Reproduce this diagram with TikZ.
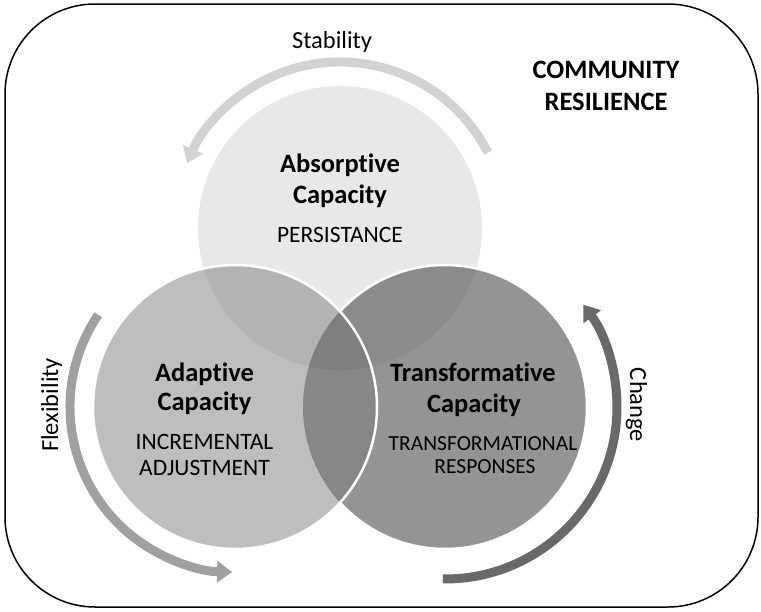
\documentclass[tikz,border=0pt]{standalone}
\usepackage{fontspec}
\setmainfont{Carlito}[Ligatures=CommonOff]
\usetikzlibrary{arrows.meta}
\definecolor{colT}{RGB}{232,232,232}
\definecolor{colL}{RGB}{190,190,190}
\definecolor{colR}{RGB}{148,148,148}
\definecolor{colTL}{RGB}{179,179,179}
\definecolor{colTR}{RGB}{139,139,139}
\definecolor{colLR}{RGB}{135,135,135}
\definecolor{colTLR}{RGB}{127,127,127}
\definecolor{arrStab}{RGB}{210,210,210}
\definecolor{arrFlex}{RGB}{160,160,160}
\definecolor{arrChange}{RGB}{105,105,105}
\tikzset{
  titletext/.style={anchor=base, inner sep=0pt, font=\bfseries\fontsize{26.5}{30}\selectfont},
  subtext/.style={anchor=base, inner sep=0pt, font=\fontsize{23.5}{26}\selectfont},
  subsmall/.style={anchor=base, inner sep=0pt, font=\fontsize{21.5}{26}\selectfont},
  sidetext/.style={anchor=base, inner sep=0pt, font=\fontsize{24.5}{28}\selectfont},
  ringarrow/.style={line width=9pt, -{Triangle[width=21pt,length=15pt]}},
  sep/.style={white, line width=2.5pt}
}
\begin{document}
\begin{tikzpicture}[x=1pt,y=-1pt]
\useasboundingbox (0,0) rectangle (761,611);
% outer frame
\draw[line width=1.5pt, rounded corners=90pt] (5,4) rectangle (758,607);
% circle centres
\coordinate (T) at (340,228);
\coordinate (L) at (235,407);
\coordinate (R) at (445,407);
\def\rad{142}
% top circle
\fill[colT] (T) circle[radius=\rad];
% right circle
\fill[colR] (R) circle[radius=\rad];
\begin{scope}
  \clip (T) circle[radius=\rad];
  \fill[colTR] (R) circle[radius=\rad];
\end{scope}
\draw[sep] (R) circle[radius=\rad];
% left circle
\fill[colL] (L) circle[radius=\rad];
\begin{scope}
  \clip (T) circle[radius=\rad];
  \fill[colTL] (L) circle[radius=\rad];
\end{scope}
\begin{scope}
  \clip (R) circle[radius=\rad];
  \fill[colLR] (L) circle[radius=\rad];
  \clip (T) circle[radius=\rad];
  \fill[colTLR] (L) circle[radius=\rad];
\end{scope}
\draw[sep] (L) circle[radius=\rad];
% ring arrows
\draw[ringarrow, arrStab] (T) ++(-27:166) arc[start angle=-27, end angle=-157, radius=166];
\draw[ringarrow, arrFlex] (L) ++(-146:165) arc[start angle=-146, end angle=-269, radius=165];
\draw[ringarrow, arrChange] (R) ++(90.7:172) arc[start angle=90.7, end angle=-36.5, radius=172];
% texts
\node[sidetext] (stab) at (332,48) {Stability};
\node[sidetext, rotate=90] (flex) at (58,405) {Flexibility};
\node[sidetext, rotate=-90] (change) at (630,405) {Change};
\node[titletext] (comm1) at (606,78) {COMMUNITY};
\node[titletext] (comm2) at (606,110) {RESILIENCE};
\node[titletext] (absT1) at (340,172) {Absorptive};
\node[titletext] (absT2) at (340,203) {Capacity};
\node[subtext] (absS) at (340,242) {PERSISTANCE};
\node[titletext] (adaT1) at (204.5,381) {Adaptive};
\node[titletext] (adaT2) at (204.5,410) {Capacity};
\node[subtext] (adaS1) at (204.5,449) {INCREMENTAL};
\node[subtext] (adaS2) at (204.5,475) {ADJUSTMENT};
\node[titletext] (traT1) at (473,381) {Transformative};
\node[titletext] (traT2) at (474,412) {Capacity};
\node[subsmall] (traS1) at (483,450) {TRANSFORMATIONAL};
\node[subsmall] (traS2) at (485,473) {RESPONSES};
\end{tikzpicture}
\end{document}
